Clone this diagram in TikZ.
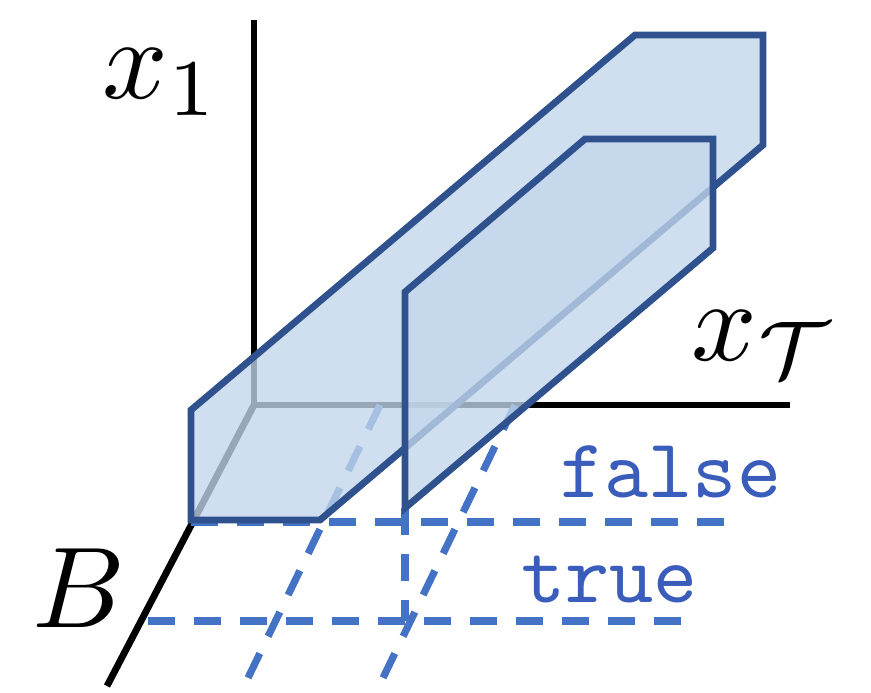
\documentclass[tikz,border=0pt]{standalone}
\usepackage{amsmath,amssymb}
\usepackage{tikz}
\usetikzlibrary{positioning}

\definecolor{edgeblue}{RGB}{47,82,143}
\definecolor{fillblue}{RGB}{194,214,235}
\definecolor{guideblue}{RGB}{68,114,196}
\definecolor{textblue}{RGB}{58,92,186}

\begin{document}
\begin{tikzpicture}[x=0.5pt, y=-0.5pt,
    axis/.style={draw=black, line width=3.4pt},
    guide/.style={draw=guideblue, line width=3.6pt, dash pattern=on 13.5pt off 9.5pt},
    slab/.style={draw=edgeblue, line width=3.4pt, fill=fillblue, fill opacity=0.78},
    mlabel/.style={inner sep=0pt, anchor=base west, scale=5.75},
    vlabel/.style={inner sep=0pt, anchor=base west, text=textblue, scale=4.2,
                   font=\ttfamily},
  ]
  \useasboundingbox (0,0) rectangle (871,692);

  % axes
  \coordinate (O) at (254,405);
  \coordinate (x1end) at (254,20);
  \coordinate (xtend) at (790,405);
  \coordinate (Bend) at (107,686);
  \draw[axis] (x1end) -- (O) -- (xtend);
  \draw[axis] (O) -- (Bend);

  % guide lines (B = false / true)
  \coordinate (fa) at (191,522);
  \coordinate (fb) at (724,522);
  \coordinate (ta) at (148,621);
  \coordinate (tb) at (681,621);
  \coordinate (va) at (405,508);
  \coordinate (vb) at (405,621);
  \coordinate (da1) at (380,405);
  \coordinate (db1) at (246,682);
  \coordinate (da2) at (515,405);
  \coordinate (db2) at (381,682);
  \foreach \a/\b in {fa/fb, ta/tb, va/vb, da1/db1, da2/db2} {
    \draw[guide] (\a) -- (\b);
  }

  % prism
  \coordinate (p1) at (191,520);
  \coordinate (p2) at (191,410);
  \coordinate (p3) at (635,35);
  \coordinate (p4) at (763,35);
  \coordinate (p5) at (763,145);
  \coordinate (p6) at (320,520);
  \draw[slab] (p1) -- (p2) -- (p3) -- (p4) -- (p5) -- (p6) -- cycle;

  % panel
  \coordinate (q1) at (405,508);
  \coordinate (q2) at (405,292);
  \coordinate (q3) at (585,139);
  \coordinate (q4) at (713,139);
  \coordinate (q5) at (713,248);
  \draw[slab] (q1) -- (q2) -- (q3) -- (q4) -- (q5) -- cycle;

  % labels
  \node[mlabel] (lx1) at (100,98) {$x_1$};
  \node[mlabel] (lxt) at (689,360) {$x_{\mathcal{T}}$};
  \node[mlabel] (lB) at (30,627) {$B$};
  \node[vlabel] (lfalse) at (559,497) {false};
  \node[vlabel] (ltrue) at (520,602) {true};
\end{tikzpicture}
\end{document}
